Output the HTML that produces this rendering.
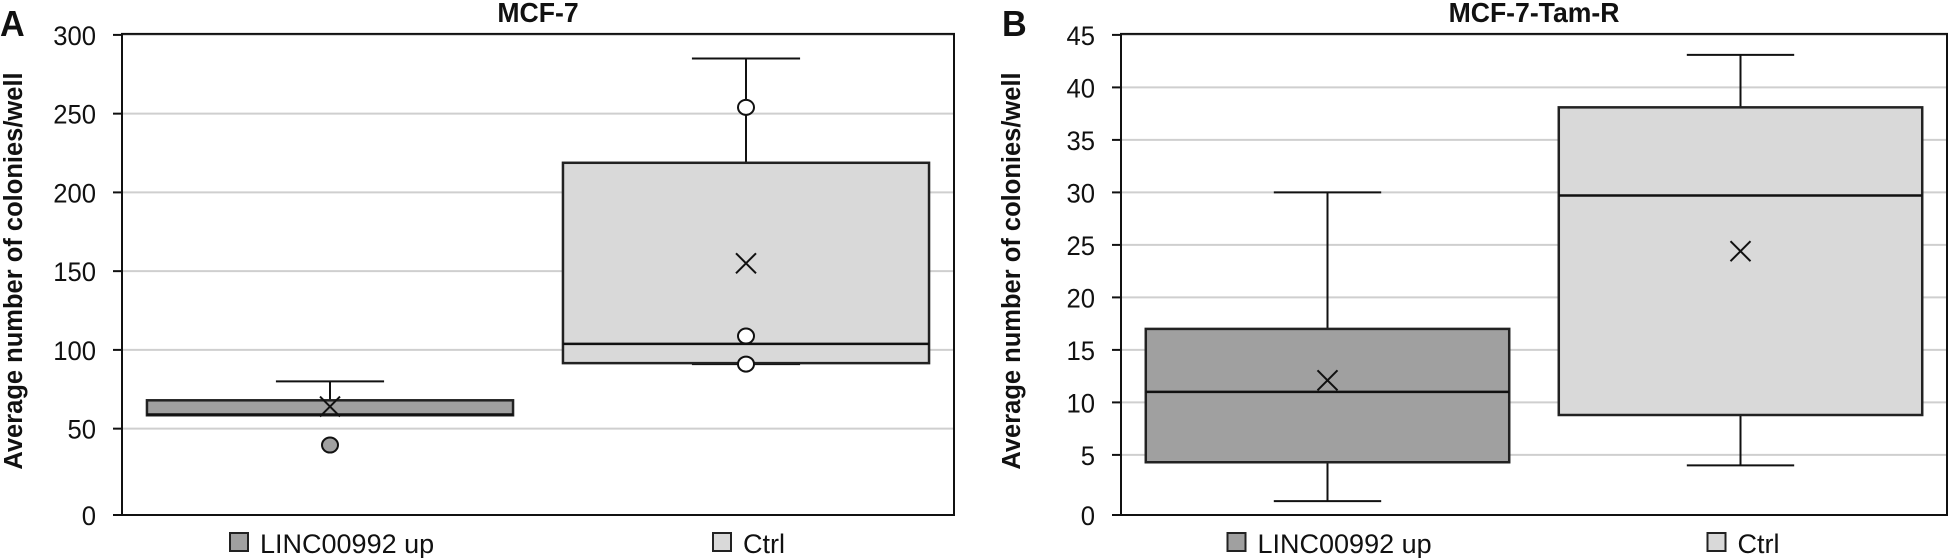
<!DOCTYPE html>
<html><head><meta charset="utf-8">
<style>
html,body{margin:0;padding:0;background:#fff;}
svg{display:block;}
.tick{font-family:"Liberation Sans",sans-serif;font-size:27px;fill:#111;}
.legend{font-family:"Liberation Sans",sans-serif;font-size:27px;fill:#111;}
.title{font-family:"Liberation Sans",sans-serif;font-size:28px;font-weight:bold;fill:#111;}
.ytitle{font-family:"Liberation Sans",sans-serif;font-size:25.5px;font-weight:bold;fill:#111;}
.panel{font-family:"Liberation Sans",sans-serif;font-size:36px;font-weight:bold;fill:#111;}
</style></head>
<body>
<svg id="chart" width="1949" height="558" viewBox="0 0 1949 558" xmlns="http://www.w3.org/2000/svg"></svg>
<script>
const categories = ["LINC00992 up", "Ctrl"];
const fills = ["#a0a0a0", "#d9d9d9"];
// Panel A (MCF-7)
const aTicks = [0, 50, 100, 150, 200, 250, 300];
const aMin = [58.5, 91];
const aQ1 = [58.5, 91.6];
const aMedian = [59, 103.8];
const aQ3 = [68, 218.8];
const aMax = [80, 285];
const aMean = [64, 155];
const aOutliers = [[39.6], [254, 108.8, 91]];
// Panel B (MCF-7-Tam-R)
const bTicks = [0, 5, 10, 15, 20, 25, 30, 35, 40, 45];
const bMin = [0.6, 4.0];
const bQ1 = [4.3, 8.8];
const bMedian = [11.0, 29.7];
const bQ3 = [17.0, 38.1];
const bMax = [30, 43.1];
const bMean = [12.1, 24.4];
const bOutliers = [[], []];

const NS = "http://www.w3.org/2000/svg";
const svg = document.getElementById("chart");
function mk(tag, attrs, parent) {
  const e = document.createElementNS(NS, tag);
  for (const k in attrs) e.setAttribute(k, attrs[k]);
  (parent || svg).appendChild(e);
  return e;
}
function ntext(x, y, anchor, cls, sx, parent) {
  return mk("text", {x: 0, y: 0, "text-anchor": anchor, class: cls, transform: `translate(${x},${y}) scale(${sx},1)`}, parent);
}

function drawPanel(p) {
  const g = mk("g", {});
  
  
  const y0 = 507.4, yTop = 34.9;
  const maxV = p.ticks[p.ticks.length - 1];
  const y = v => y0 - v / maxV * (y0 - yTop);
  const xw = p.right - p.left;
  const xc = i => p.left + xw * (i + 0.5) / categories.length;
  const boxW = xw * 0.44, capW = xw * 0.13;

  p.ticks.forEach((t) => {
    const ty = t === 0 ? 515 : y(t);
    if (t !== 0) {
      const gl = mk("line", {x1: p.left, x2: p.right, y1: ty, y2: ty, stroke: "#cfcfcf", "stroke-width": 2}, g);
      
      
    }
    const tm = mk("line", {x1: p.left - 9, x2: p.left, y1: ty, y2: ty, stroke: "#111", "stroke-width": 2}, g);
    
    
    const tl = ntext(p.left - 26, ty + 10, "end", "tick", 0.95, g);
    tl.textContent = t;
    
    
  });
  const fr = mk("rect", {x: p.left, y: yTop - 1, width: xw, height: 515 - yTop + 1, fill: "none", stroke: "#111", "stroke-width": 2}, g);
  
  

  categories.forEach((c, i) => {
    const cx = xc(i);
    const bg = mk("g", {}, g);
    
    
    mk("line", {x1: cx, x2: cx, y1: y(p.max[i]), y2: y(p.q3[i]), stroke: "#111", "stroke-width": 2}, bg);
    mk("line", {x1: cx, x2: cx, y1: y(p.q1[i]), y2: y(p.min[i]), stroke: "#111", "stroke-width": 2}, bg);
    const c1 = mk("line", {x1: cx - capW/2, x2: cx + capW/2, y1: y(p.max[i]), y2: y(p.max[i]), stroke: "#111", "stroke-width": 2}, bg);
    
    
    if (p.min[i] < p.q1[i]) {
      const c2 = mk("line", {x1: cx - capW/2, x2: cx + capW/2, y1: y(p.min[i]), y2: y(p.min[i]), stroke: "#111", "stroke-width": 2}, bg);
      
      
    }
    const r = mk("rect", {x: cx - boxW/2, y: y(p.q3[i]), width: boxW, height: y(p.q1[i]) - y(p.q3[i]), fill: fills[i], stroke: "#222", "stroke-width": 2.5}, bg);
    
    
    const m = mk("line", {x1: cx - boxW/2, x2: cx + boxW/2, y1: y(p.median[i]), y2: y(p.median[i]), stroke: "#111", "stroke-width": 2.5}, bg);
    
    
    const my = y(p.mean[i]), s = 10;
    const mx = mk("path", {d: `M${cx-s},${my-s}L${cx+s},${my+s}M${cx+s},${my-s}L${cx-s},${my+s}`, stroke: "#111", "stroke-width": 2, fill: "none"}, bg);
    
    
    p.outliers[i].forEach(o => {
      const oc = mk("ellipse", {cx: cx, cy: y(o), rx: 8, ry: 7.5, fill: i === 0 ? "#a0a0a0" : "#fff", stroke: "#111", "stroke-width": 2}, bg);
      
      
    });
    const lx = cx - (i === 0 ? 100 : 33);
    const ls = mk("rect", {x: lx, y: 533, width: 18, height: 18, fill: fills[i], stroke: "#222", "stroke-width": 2}, g);
    
    
    const lt = ntext(lx + 30, 553, "start", "legend", 1, g);
    lt.textContent = c;
    
    
  });

  const t = ntext((p.left + p.right) / 2, 22, "middle", "title", 0.95, g);
  t.textContent = p.title;
  
  
  const pl = ntext(p.panelX, 36, "start", "panel", 0.95, g);
  pl.textContent = p.panel;
  
  
  const yt = mk("text", {x: 0, y: 0, "text-anchor": "middle", class: "ytitle", transform: `translate(${p.ytX},271) rotate(-90)`}, g);
  yt.textContent = "Average number of colonies/well";
  
  
}

drawPanel({name: "panel-a-mcf7", title: "MCF-7", panel: "A", panelX: 0, ytX: 22, left: 122, right: 954,
  ticks: aTicks, min: aMin, q1: aQ1, median: aMedian, q3: aQ3, max: aMax, mean: aMean, outliers: aOutliers});
drawPanel({name: "panel-b-mcf7-tam-r", title: "MCF-7-Tam-R", panel: "B", panelX: 1002, ytX: 1020, left: 1121, right: 1947,
  ticks: bTicks, min: bMin, q1: bQ1, median: bMedian, q3: bQ3, max: bMax, mean: bMean, outliers: bOutliers});
</script>
</body></html>
